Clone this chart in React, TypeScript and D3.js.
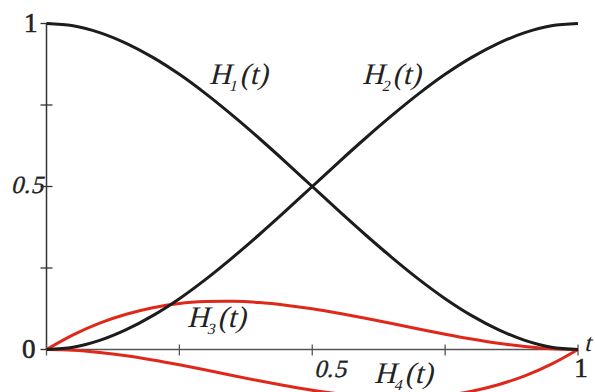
import React from "react";
import * as d3 from "d3";

// Parameter samples t and the four cubic Hermite basis values at each sample
const tValues = [0, 0.05, 0.1, 0.15, 0.2, 0.25, 0.3, 0.35, 0.4, 0.45, 0.5, 0.55, 0.6, 0.65, 0.7, 0.75, 0.8, 0.85, 0.9, 0.95, 1];
const h1Values = [1, 0.993, 0.972, 0.939, 0.896, 0.844, 0.784, 0.718, 0.648, 0.575, 0.5, 0.425, 0.352, 0.282, 0.216, 0.156, 0.104, 0.061, 0.028, 0.007, 0];
const h2Values = [0, 0.007, 0.028, 0.061, 0.104, 0.156, 0.216, 0.282, 0.352, 0.425, 0.5, 0.575, 0.648, 0.718, 0.784, 0.844, 0.896, 0.939, 0.972, 0.993, 1];
const h3Values = [0, 0.045, 0.081, 0.108, 0.128, 0.141, 0.147, 0.148, 0.144, 0.136, 0.125, 0.111, 0.096, 0.08, 0.063, 0.047, 0.032, 0.019, 0.009, 0.002, 0];
const h4Values = [0, -0.002, -0.009, -0.019, -0.032, -0.047, -0.063, -0.08, -0.096, -0.111, -0.125, -0.136, -0.144, -0.148, -0.147, -0.141, -0.128, -0.108, -0.081, -0.045, 0];

const xTicks = [0, 0.25, 0.5, 0.75, 1];
const yTicks = [0, 0.25, 0.5, 0.75, 1];

const W = 595;
const H = 392;

const x = d3.scaleLinear().domain([0, 1]).range([46.5, 578]);
const y = d3.scaleLinear().domain([0, 1]).range([349.5, 23.5]);

const line = d3
  .line<number>()
  .x((_, i) => x(tValues[i]))
  .y((d) => y(d))
  .curve(d3.curveCatmullRom.alpha(0.5));

const serif = "Liberation Serif, serif";
const ink = "#222";

// Slanted serif text, drawn upright and sheared so the serif face is kept
function Slanted({ px, py, size, anchor = "start", spacing = 0, weight = 0, children }: { px: number; py: number; size: number; anchor?: string; spacing?: number; weight?: number; children: React.ReactNode }) {
  return (
    <g transform={`translate(${px},${py}) skewX(-14)`}>
      <text x={0} y={0} textAnchor={anchor} fontFamily={serif} fontSize={size} letterSpacing={spacing} fill={ink} stroke={weight ? ink : "none"} strokeWidth={weight}>
        {children}
      </text>
    </g>
  );
}

function Label({ px, py, name, sub, size = 30 }: { px: number; py: number; name: string; sub: string; size?: number }) {
  return (
    <Slanted px={px} py={py} size={size}>
      {name}
      <tspan fontSize={size * 0.52} dy={size * 0.24}>{sub}</tspan>
      <tspan dy={-size * 0.24} dx={1}>(t)</tspan>
    </Slanted>
  );
}

export default function App() {
  const black = "#1c1c1c";
  const red = "#e0281a";
  const axisColor = "#555";
  return (
    <svg width={W} height={H} style={{ position: "absolute", left: 0, top: 0, background: "#fff" }}>
      {/* axes */}
      <line x1={x(0)} x2={x(0)} y1={y(1)} y2={y(0)} stroke="#333" strokeWidth={1.5} />
      <line x1={x(0)} x2={x(1)} y1={y(0)} y2={y(0)} stroke={axisColor} strokeWidth={1.5} />
      {yTicks.map((v) => (
        <line key={"yt" + v} x1={x(0) - 6} x2={x(0) + 6} y1={y(v)} y2={y(v)} stroke="#333" strokeWidth={1.3} />
      ))}
      {xTicks.map((v) => (
        <line key={"xt" + v} x1={x(v)} x2={x(v)} y1={y(0) - 5} y2={y(0) + 6} stroke={axisColor} strokeWidth={1.3} />
      ))}

      {/* curves */}
      <path d={line(h3Values) ?? ""} fill="none" stroke={red} strokeWidth={3} />
      <path d={line(h4Values) ?? ""} fill="none" stroke={red} strokeWidth={3} />
      <path d={line(h1Values) ?? ""} fill="none" stroke={black} strokeWidth={3} />
      <path d={line(h2Values) ?? ""} fill="none" stroke={black} strokeWidth={3} />

      {/* y tick labels */}
      <text x={x(0) - 9} y={y(1) + 8} textAnchor="end" fontFamily={serif} fontSize={27} fill={ink} stroke={ink} strokeWidth={0.6}>1</text>
      <Slanted px={x(0) - 3} py={y(0.5) + 6} size={25} anchor="end" spacing={0.5} weight={0.3}>0.5</Slanted>
      <text x={x(0) - 11} y={y(0) + 8.5} textAnchor="end" fontFamily={serif} fontSize={27} fill={ink} stroke={ink} strokeWidth={0.6}>0</text>

      {/* x tick labels */}
      <Slanted px={x(0.5) + 18} py={y(0) + 27} size={25} anchor="middle" spacing={0.5} weight={0.3}>0.5</Slanted>
      <text x={x(1) + 3} y={y(0) + 27} textAnchor="middle" fontFamily={serif} fontSize={27} fill={ink} stroke={ink} strokeWidth={0.6}>1</text>
      <Slanted px={x(1) + 6} py={y(0) + 1} size={25}>t</Slanted>

      {/* curve names */}
      <Label px={209} py={84} name="H" sub="1" />
      <Label px={362} py={84} name="H" sub="2" />
      <Label px={187} py={327} name="H" sub="3" />
      <Label px={374} py={383} name="H" sub="4" />
    </svg>
  );
}
